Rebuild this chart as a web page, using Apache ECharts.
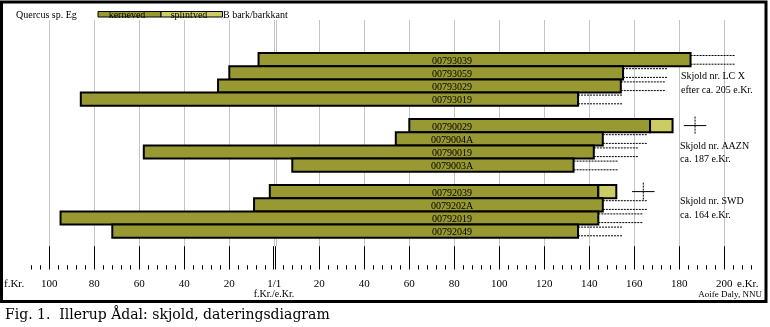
<!DOCTYPE html>
<html><head><meta charset="utf-8">
<script src="https://cdn.jsdelivr.net/npm/echarts@6/dist/echarts.min.js"></script>
<style>html,body{margin:0;padding:0;background:#fff}#c{width:770px;height:327px}</style>
</head><body><div id="c"></div>
<script>
// ---- data (years: negative = f.Kr., positive = e.Kr.) ----
const sampleIds   = ['00793039','00793059','00793029','00793019','','00790029','0079004A','00790019','0079003A','','00792039','0079202A','00792019','00792049'];
const heartStart  = [-7,-20,-25,-86,null, 60,54,-58,8,null, -2,-9,-95,-72];
const heartEnd    = [185,155,154,135,null, 167,146,142,133,null, 144,146,144,135];
const sapEnd      = [null,null,null,null,null, 177,null,null,null,null, 152,null,null,null];
const estEnd      = [205,175,174,155,null, null,166,162,153,null, null,166,164,155];
const fellingDate = [null,null,null,null,null, 187,null,null,null,null, 164,null,null,null];
const fellingSpread = 5;
const majorTickYears = [-100,-80,-60,-40,-20,0,20,40,60,80,100,120,140,160,180,200];
const shieldNames = ['Skjold nr. LC X','Skjold nr. AAZN','Skjold nr. SWD'];
const shieldDates = ['efter ca. 205 e.Kr.','ca. 187 e.Kr.','ca. 164 e.Kr.'];
const legendTexts = ['Quercus sp. Eg','kerneved','splintved','B bark/barkkant'];

// ---- styles ----
const HEART = '#999933', SAP = '#cccc66', GRIDC = '#c4c4c4';
const SERIF = '"Liberation Serif", "Times New Roman", serif';
const labelYear = 79;

const majorTickValues = majorTickYears.flatMap(v => v === 0 ? [-0.5, 0.4] : [v]);
const minorTickValues = [];
for (let v = -108; v <= 212; v += 4) if (v % 20 !== 0) minorTickValues.push(v);

function renderItem(params, api) {
  const i = params.dataIndex;
  if (heartStart[i] == null) return null;
  const c = api.coord([heartStart[i], i]);
  const h = api.size([0, 1])[1];
  const y0 = c[1] - h / 2;
  const xe = api.coord([heartEnd[i], i])[0];
  const ch = [];
  if (estEnd[i] != null) {
    const xd = api.coord([estEnd[i], i])[0];
    [y0 + 2.5, y0 + h - 2].forEach(y => ch.push({
      type: 'line', shape: {x1: xe, y1: y, x2: xd, y2: y},
      style: {stroke: '#000', lineWidth: 1, lineDash: [2, 1]}
    }));
  }
  ch.push({type: 'rect', shape: {x: c[0], y: y0, width: xe - c[0], height: h},
    style: {fill: HEART, stroke: '#000', lineWidth: 2}});
  if (sapEnd[i] != null) {
    const xs = api.coord([sapEnd[i], i])[0];
    ch.push({type: 'rect', shape: {x: xe, y: y0, width: xs - xe, height: h},
      style: {fill: SAP, stroke: '#000', lineWidth: 2}});
  }
  if (fellingDate[i] != null) {
    const xf = api.coord([fellingDate[i], i])[0];
    const xa = api.coord([fellingDate[i] - fellingSpread, i])[0];
    const xb = api.coord([fellingDate[i] + fellingSpread, i])[0];
    ch.push({type: 'line', shape: {x1: xa, y1: c[1], x2: xb, y2: c[1]}, style: {stroke: '#000', lineWidth: 1}});
    ch.push({type: 'line', shape: {x1: xf, y1: c[1] - 9, x2: xf, y2: c[1] + 8}, style: {stroke: '#000', lineWidth: 1, lineDash: [2, 1]}});
  }
  ch.push({type: 'text', style: {
    x: api.coord([labelYear, i])[0], y: c[1] + 1.5, text: sampleIds[i],
    align: 'center', verticalAlign: 'middle', font: '10px ' + SERIF, fill: '#000'}});
  return {type: 'group', children: ch};
}

const chart = echarts.init(document.getElementById('c'), null, {renderer: 'canvas'});
const txt = (x, y, text, size, align, extra) => Object.assign({
  type: 'text', x: x, y: y, z: 10,
  style: {text: text, font: size + 'px ' + SERIF, fill: '#000', align: align || 'left', verticalAlign: 'middle'}
}, extra || {});

chart.setOption({
  animation: false,
  backgroundColor: '#fff',
  grid: [
    {left: 22.3, width: 738, top: 53, height: 184.8},
    {left: 49.3, width: 675, top: 20, height: 226}
  ],
  xAxis: [
    {gridIndex: 0, type: 'value', min: -112, max: 216, position: 'bottom', offset: 31.7,
     axisLine: {show: false}, splitLine: {show: false},
     axisTick: {show: true, inside: true, length: 23.3, customValues: majorTickValues, lineStyle: {color: '#000', width: 1}},
     axisLabel: {show: true, customValues: majorTickYears, margin: 9, color: '#000',
       fontFamily: SERIF, fontSize: 11,
       formatter: v => v === 0 ? '1/1' : String(Math.abs(v))}},
    {gridIndex: 0, type: 'value', min: -112, max: 216, position: 'bottom', offset: 31.7,
     axisLine: {show: false}, splitLine: {show: false}, axisLabel: {show: false},
     axisTick: {show: true, inside: true, length: 4.3, customValues: minorTickValues, lineStyle: {color: '#000', width: 1}}},
    {gridIndex: 1, type: 'value', min: -100, max: 200, interval: 20,
     axisLine: {show: false}, axisTick: {show: false}, axisLabel: {show: false},
     splitLine: {show: true, lineStyle: {color: GRIDC, width: 1}}}
  ],
  yAxis: [
    {gridIndex: 0, type: 'category', inverse: true, data: sampleIds.map((d, i) => d || ('gap' + i)),
     show: false},
    {gridIndex: 1, type: 'value', min: 0, max: 1, show: false}
  ],
  series: [
    {type: 'line', xAxisIndex: 2, yAxisIndex: 1, data: [], silent: true,
     markLine: {silent: true, symbol: 'none', label: {show: false}, animation: false,
       lineStyle: {color: GRIDC, width: 1, type: 'solid'}, data: [{xAxis: 0.7}]}},
    {type: 'custom', xAxisIndex: 0, yAxisIndex: 0, renderItem: renderItem, z: 5,
     data: sampleIds.map((d, i) => [heartStart[i] == null ? 0 : heartStart[i], i]),
     encode: {x: 0, y: 1}}
  ],
  graphic: [
    {type: 'rect', z: 20, shape: {x: 1.5, y: 2, width: 764.5, height: 299.5},
     style: {fill: 'none', stroke: '#000', lineWidth: 3}},
    {type: 'rect', z: 9, shape: {x: 98, y: 11.5, width: 63, height: 5.5}, style: {fill: HEART, stroke: '#000', lineWidth: 1}},
    {type: 'rect', z: 9, shape: {x: 161, y: 11.5, width: 61.5, height: 5.5}, style: {fill: SAP, stroke: '#000', lineWidth: 1}},
    txt(16, 15, legendTexts[0], 10),
    txt(127, 15.5, legendTexts[1], 10, 'center'),
    txt(189, 15.5, legendTexts[2], 10, 'center'),
    txt(223, 15, legendTexts[3], 10),
    txt(681, 76, shieldNames[0], 10), txt(681, 90, shieldDates[0], 10),
    txt(680, 146, shieldNames[1], 10), txt(680, 159.5, shieldDates[1], 10),
    txt(680, 201, shieldNames[2], 10), txt(680, 215.5, shieldDates[2], 10),
    txt(4, 284.5, 'f.Kr.', 11),
    txt(737, 284.5, 'e.Kr.', 11),
    txt(274, 294, 'f.Kr./e.Kr.', 10, 'center'),
    txt(762, 294.5, 'Aoife Daly, NNU', 9, 'right'),
    {type: 'text', x: 5, y: 315, z: 10, style: {text: 'Fig. 1.  Illerup Ådal: skjold, dateringsdiagram',
      font: '14px "DejaVu Serif", serif', fill: '#000', verticalAlign: 'middle'}}
  ]
});
</script></body></html>
